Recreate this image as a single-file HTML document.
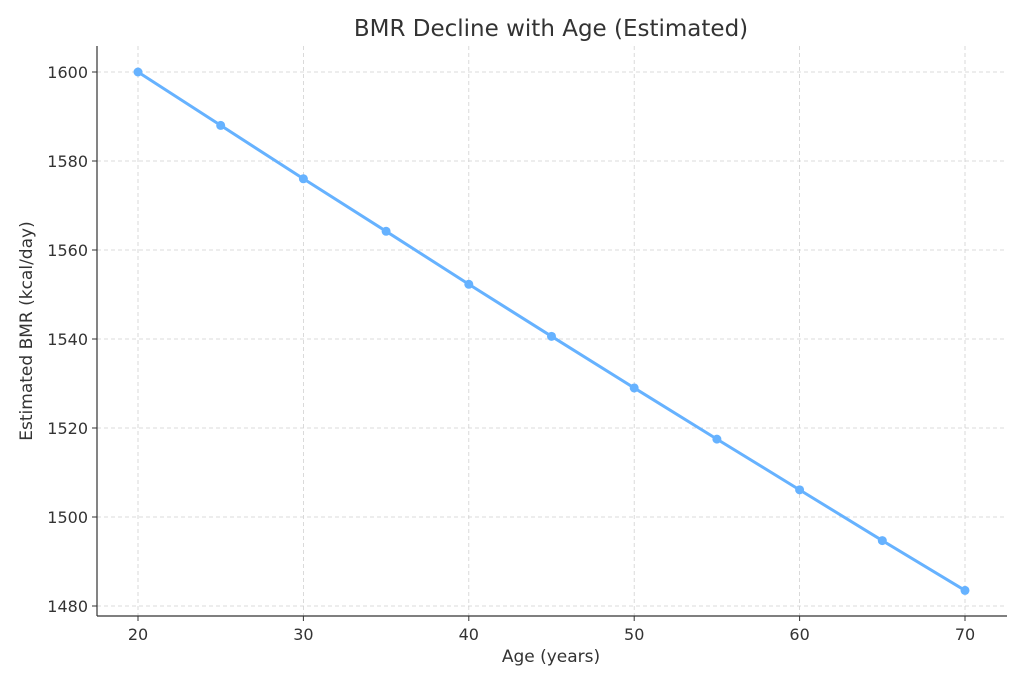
<!DOCTYPE html>
<html><head><meta charset="utf-8"><style>
body{margin:0;background:#fff;font-family:"Liberation Sans","DejaVu Sans",sans-serif}
svg text{font-family:"DejaVu Sans","Liberation Sans",sans-serif;fill:#333}
</style></head><body>
<svg id="chart" width="1024" height="683" xmlns="http://www.w3.org/2000/svg">
<text x="551" y="36" text-anchor="middle" font-size="23">BMR Decline with Age (Estimated)</text>
<g id="grid"></g><g id="axes"></g><g id="series"></g>
<text x="551" y="662" text-anchor="middle" font-size="17">Age (years)</text>
<text transform="translate(32,331) rotate(-90)" text-anchor="middle" font-size="17">Estimated BMR (kcal/day)</text>
</svg>
<script>
const ages=[20,25,30,35,40,45,50,55,60,65,70];
const bmr=[1600,1588,1576,1564.2,1552.3,1540.6,1529,1517.5,1506.1,1494.7,1483.5];
const xTicks=[20,30,40,50,60,70];
const yTicks=[1480,1500,1520,1540,1560,1580,1600];
const NS="http://www.w3.org/2000/svg";
const L=97,R=1007,T=46,B=616;
const x=v=>138+(v-20)*(965-138)/50;
const y=v=>606-(v-1480)*(606-72)/120;
function mk(t,a,p){const e=document.createElementNS(NS,t);for(const k in a)e.setAttribute(k,a[k]);p.appendChild(e);return e;}
const g=document.getElementById('grid'),ax=document.getElementById('axes'),s=document.getElementById('series');
xTicks.forEach(v=>{
const l=mk('line',{x1:x(v),x2:x(v),y1:T,y2:B,stroke:'#d0d0d0','stroke-dasharray':'4,3','stroke-width':0.8},g);


const tk=mk('line',{x1:x(v),x2:x(v),y1:B,y2:B+5,stroke:'#333'},ax);


const t=mk('text',{x:x(v),y:B+24,'text-anchor':'middle','font-size':16},ax);t.textContent=v;


});
yTicks.forEach(v=>{
const l=mk('line',{x1:L,x2:R,y1:y(v),y2:y(v),stroke:'#d0d0d0','stroke-dasharray':'4,3','stroke-width':0.8},g);


const tk=mk('line',{x1:L-5,x2:L,y1:y(v),y2:y(v),stroke:'#333'},ax);


const t=mk('text',{x:L-9,y:y(v)+6,'text-anchor':'end','font-size':16},ax);t.textContent=v;


});
const ls=mk('line',{x1:L,x2:L,y1:T,y2:B,stroke:'#333','stroke-width':1.2},ax);


const bs=mk('line',{x1:L,x2:R,y1:B,y2:B,stroke:'#333','stroke-width':1.2},ax);


const pl=mk('polyline',{points:ages.map((a,i)=>x(a)+','+y(bmr[i])).join(' '),fill:'none',stroke:'#66b2ff','stroke-width':3},s);


ages.forEach((a,i)=>{
const c=mk('circle',{cx:x(a),cy:y(bmr[i]),r:4.5,fill:'#66b2ff'},s);


});
</script>
</body></html>
